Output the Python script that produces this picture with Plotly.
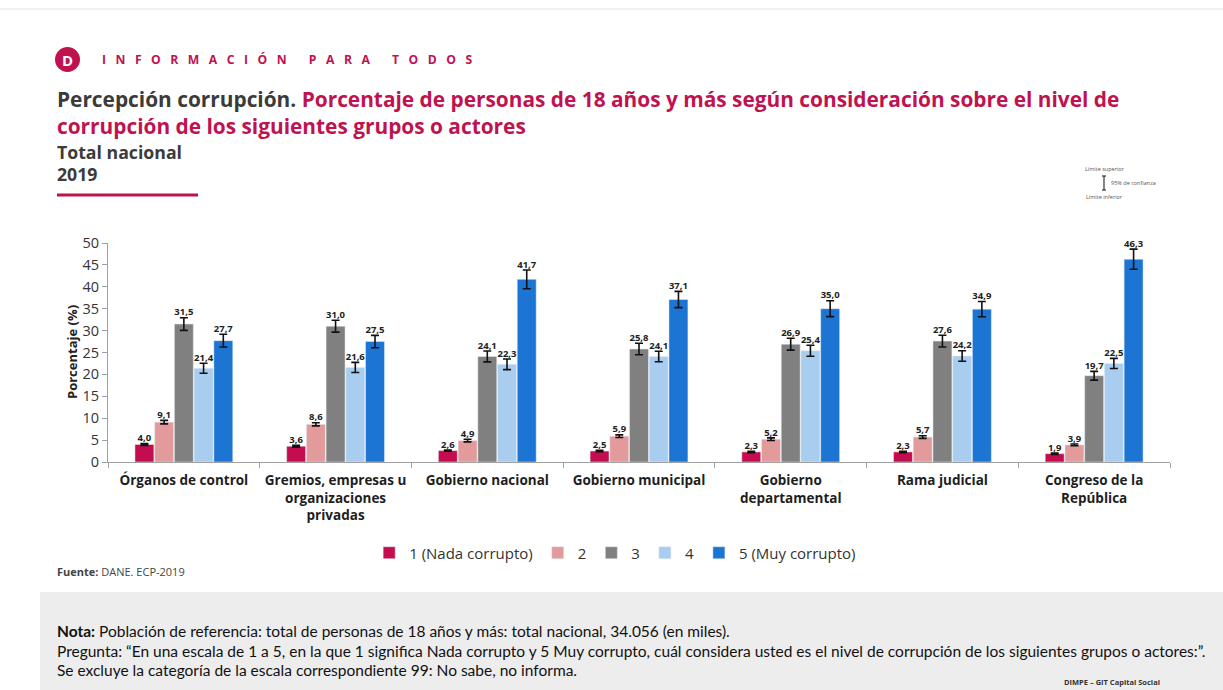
import plotly.graph_objects as go

W, H = 1223, 690

categories = [
    "Órganos de control",
    "Gremios, empresas u<br>organizaciones<br>privadas",
    "Gobierno nacional",
    "Gobierno municipal",
    "Gobierno<br>departamental",
    "Rama judicial",
    "Congreso de la<br>República",
]
series_names = ["1 (Nada corrupto)", "2", "3", "4", "5 (Muy corrupto)"]
series_colors = ["#C40D4F", "#E39A9B", "#808080", "#A8CDEF", "#1C74D3"]

v1 = [4.0, 3.6, 2.6, 2.5, 2.3, 2.3, 1.9]
v2 = [9.1, 8.6, 4.9, 5.9, 5.2, 5.7, 3.9]
v3 = [31.5, 31.0, 24.1, 25.8, 26.9, 27.6, 19.7]
v4 = [21.4, 21.6, 22.3, 24.1, 25.4, 24.2, 22.5]
v5 = [27.7, 27.5, 41.7, 37.1, 35.0, 34.9, 46.3]

# half-width of the 95% confidence interval
e1 = [0.2, 0.2, 0.15, 0.15, 0.15, 0.15, 0.15]
e2 = [0.4, 0.35, 0.3, 0.3, 0.3, 0.3, 0.2]
e3 = [1.45, 1.35, 1.25, 1.3, 1.35, 1.35, 1.0]
e4 = [1.15, 1.15, 1.2, 1.2, 1.25, 1.2, 1.15]
e5 = [1.45, 1.4, 2.15, 1.85, 1.8, 1.75, 2.3]

values = [v1, v2, v3, v4, v5]
errors = [e1, e2, e3, e4, e5]

CRIMSON = "#C0124F"
DARK = "#3B3B3B"
FONT = "Open Sans"


def px_x(x):
    return x / W


def px_y(y):
    return 1 - y / H


fig = go.Figure()

for i, (name, col, vals, errs) in enumerate(zip(series_names, series_colors, values, errors)):
    fig.add_trace(go.Bar(
        x=categories, y=vals, name=name, marker_color=col,
        offsetgroup=str(i),
        error_y=dict(type="data", array=errs, visible=True, color="#111111",
                     thickness=1.6, width=4),
    ))

# value labels sitting on top of the upper confidence limit
for i, (vals, errs) in enumerate(zip(values, errors)):
    fig.add_trace(go.Scatter(
        x=categories, y=[v + e for v, e in zip(vals, errs)],
        mode="text", offsetgroup=str(i), showlegend=False, hoverinfo="skip",
        cliponaxis=False,
        text=["<b>" + f"{v:.1f}".replace(".", ",") + "</b>" for v in vals],
        textposition="top center",
        textfont=dict(size=9.5, color="#222222", family=FONT),
    ))

fig.update_layout(
    width=W, height=H,
    margin=dict(l=0, r=0, t=0, b=0, autoexpand=False),
    paper_bgcolor="white", plot_bgcolor="white",
    barmode="group", bargap=0.35, bargroupgap=0.04,
    scattermode="group", scattergap=0.35,
    font=dict(family=FONT, color=DARK),
    showlegend=True,
    legend=dict(orientation="h", x=0.503, xanchor="center", y=px_y(553), yanchor="middle",
                font=dict(size=15, color="#333333"), traceorder="normal",
                itemwidth=30),
    xaxis=dict(domain=[px_x(108), px_x(1170)], showline=True, linecolor="#A0A0A0",
               automargin=False, ticklabelstandoff=6,
               ticks="outside", tickson="boundaries", ticklen=5, tickcolor="#A0A0A0",
               tickfont=dict(size=13.5, color="#1E1E1E", weight="bold"), showgrid=False),
    yaxis=dict(domain=[px_y(462), px_y(243)], range=[0, 50], dtick=5, automargin=False,
               showline=True, linecolor="#A0A0A0", ticks="outside", ticklen=5,
               tickcolor="#A0A0A0", showgrid=False, zeroline=False,
               tickfont=dict(size=14.5, color="#333333")),
)

shapes = [
    dict(type="line", xref="paper", yref="paper", x0=0, x1=1, y0=px_y(9), y1=px_y(9),
         line=dict(color="#E2E2E2", width=1)),
    dict(type="circle", xref="paper", yref="paper", x0=px_x(55), x1=px_x(80),
         y0=px_y(72), y1=px_y(47), fillcolor=CRIMSON, line=dict(width=0)),
    dict(type="line", xref="paper", yref="paper", x0=px_x(57), x1=px_x(198),
         y0=px_y(195), y1=px_y(195), line=dict(color=CRIMSON, width=3)),
    dict(type="rect", xref="paper", yref="paper", x0=px_x(40), x1=1, y0=0, y1=px_y(592),
         fillcolor="#EDEDED", line=dict(width=0), layer="below"),
    # confidence interval key
    dict(type="line", xref="paper", yref="paper", x0=px_x(1104), x1=px_x(1104),
         y0=px_y(176), y1=px_y(190), line=dict(color="#333333", width=1.2)),
    dict(type="line", xref="paper", yref="paper", x0=px_x(1102), x1=px_x(1106),
         y0=px_y(176), y1=px_y(176), line=dict(color="#333333", width=1.2)),
    dict(type="line", xref="paper", yref="paper", x0=px_x(1102), x1=px_x(1106),
         y0=px_y(190), y1=px_y(190), line=dict(color="#333333", width=1.2)),
]

nb = "\u00a0"
header = (nb * 3).join("INFORMACIÓN") + nb * 7 + (nb * 3).join("PARA") + nb * 7 + (nb * 3).join("TODOS")


def note(x, y, text, size, color=DARK, anchor="left", **kw):
    return dict(xref="paper", yref="paper", x=px_x(x), y=px_y(y), text=text,
                showarrow=False, xanchor=anchor, yanchor="middle", align="left",
                font=dict(size=size, color=color, family=kw.pop("family", FONT)), **kw)


annotations = [
    note(67.5, 60, "<b>D</b>", 15, color="white", anchor="center"),
    note(100, 59, "<b>" + header + "</b>", 12.2, color=CRIMSON),
    note(55, 99, "<b>Percepción corrupción. <span style='color:" + CRIMSON +
         "'>Porcentaje de personas de 18 años y más según consideración sobre el nivel de</span></b>",
         20.85),
    note(55, 126, "<b>corrupción de los siguientes grupos o actores</b>", 20.85, color=CRIMSON),
    note(55, 152, "<b>Total nacional</b>", 17.7),
    note(55, 174, "<b>2019</b>", 17.7),
    note(72, 352, "<b>Porcentaje (%)</b>", 13, color="#222222", anchor="center", textangle=-90),
    note(1083, 169, "Límite superior", 5.5, color="#555555"),
    note(1109, 183, "95% de confianza", 5.5, color="#555555"),
    note(1084, 197, "Límite inferior", 5.5, color="#555555"),
    note(55, 571, "<b>Fuente:</b> DANE. ECP-2019", 11, color="#444444"),
    note(55, 631, "<b>Nota:</b> Población de referencia: total de personas de 18 años y más: total nacional, 34.056 (en miles).",
         15.5, color="#111111", family="Lato"),
    note(55, 651, "Pregunta: “En una escala de 1 a 5, en la que 1 significa Nada corrupto y 5 Muy corrupto, cuál considera usted es el nivel de corrupción de los siguientes grupos o actores:”.",
         15.5, color="#111111", family="Lato"),
    note(55, 670, "Se excluye la categoría de la escala correspondiente 99: No sabe, no informa.",
         15.5, color="#111111", family="Lato"),
    note(1162, 682, "<b>DIMPE – GIT Capital Social</b>", 7.5, color="#333333", anchor="right"),
]

fig.update_layout(shapes=shapes, annotations=annotations)

fig.write_html("out.html", config={"displayModeBar": False},
               post_script="document.body.style.margin='0';")
